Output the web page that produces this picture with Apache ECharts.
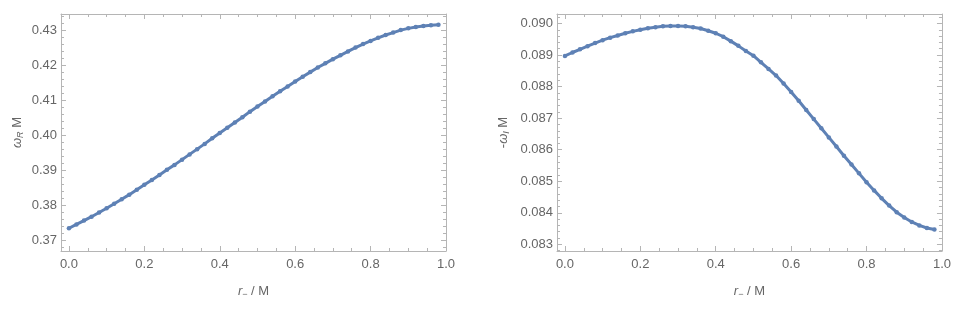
<!DOCTYPE html>
<html>
<head>
<meta charset="utf-8">
<script src="https://cdn.jsdelivr.net/npm/echarts@6/dist/echarts.min.js"></script>
<style>
html,body{margin:0;padding:0;background:#fff;}
#c{width:954px;height:313px;}
</style>
</head>
<body>
<div id="c"></div>
<script>
// ---- data ----
const rMinus = [0.00,0.02,0.04,0.06,0.08,0.10,0.12,0.14,0.16,0.18,0.20,0.22,0.24,0.26,0.28,0.30,0.32,0.34,0.36,0.38,0.40,0.42,0.44,0.46,0.48,0.50,0.52,0.54,0.56,0.58,0.60,0.62,0.64,0.66,0.68,0.70,0.72,0.74,0.76,0.78,0.80,0.82,0.84,0.86,0.88,0.90,0.92,0.94,0.96,0.98];
const omegaR = [0.3734,0.3745,0.3756,0.3767,0.3779,0.3791,0.3804,0.3817,0.3830,0.3844,0.3858,0.3872,0.3886,0.3901,0.3915,0.3930,0.3945,0.3960,0.3975,0.3991,0.4006,0.4021,0.4036,0.4051,0.4067,0.4082,0.4096,0.4111,0.4125,0.4139,0.4153,0.4167,0.4180,0.4193,0.4205,0.4217,0.4228,0.4239,0.4250,0.4260,0.4269,0.4278,0.4286,0.4293,0.4300,0.4305,0.4309,0.4312,0.4314,0.4315];
const minusOmegaI = [0.08897,0.08908,0.08918,0.08928,0.08938,0.08947,0.08955,0.08962,0.08969,0.08975,0.08980,0.08985,0.08988,0.08991,0.08992,0.08992,0.08991,0.08988,0.08984,0.08977,0.08969,0.08958,0.08944,0.08929,0.08913,0.08898,0.08877,0.08856,0.08835,0.08810,0.08783,0.08755,0.08726,0.08697,0.08668,0.08639,0.08610,0.08581,0.08553,0.08525,0.08497,0.08471,0.08446,0.08423,0.08402,0.08385,0.08371,0.08360,0.08352,0.08347];

const xTicks = [0.0,0.2,0.4,0.6,0.8,1.0];
const yTicksLeft = [0.37,0.38,0.39,0.40,0.41,0.42,0.43];
const yTicksRight = [0.083,0.084,0.085,0.086,0.087,0.088,0.089,0.090];

// ---- styling ----
const frameColor = '#b5b5b5';
const labelColor = '#666666';
const lineColor = '#5e81b5';
const font = "'Liberation Sans', Arial, sans-serif";

function minorTicks(min, max, step, majors) {
  const out = [];
  const start = Math.ceil(min / step - 1e-9);
  const end = Math.floor(max / step + 1e-9);
  for (let k = start; k <= end; k++) {
    const v = +(k * step).toFixed(6);
    if (!majors.some(m => Math.abs(m - v) < step / 10)) out.push(v);
  }
  return out;
}

function xAxes(grid, min, max, majors, minors, nameRich) {
  const base = {gridIndex: grid, type: 'value', min: min, max: max, splitLine: {show: false}};
  return [
    Object.assign({}, base, {
      position: 'bottom',
      axisLine: {show: true, onZero: false, lineStyle: {color: frameColor, width: 1}},
      axisTick: {show: true, inside: true, length: 5, customValues: majors, lineStyle: {color: frameColor}},
      axisLabel: {show: true, customValues: majors, formatter: v => v.toFixed(1), color: labelColor, fontSize: 13, fontFamily: font, margin: 7},
      name: nameRich, nameLocation: 'middle', nameGap: 33,
      nameTextStyle: {color: labelColor, fontSize: 13, fontFamily: font, rich: {
        i: {fontStyle: 'italic', fontSize: 13, fontFamily: font, color: labelColor},
        s: {fontSize: 9, fontFamily: font, color: labelColor, verticalAlign: 'bottom', padding: [6, 0, 0, 0]},
        n: {fontSize: 13, fontFamily: font, color: labelColor}
      }}
    }),
    Object.assign({}, base, {
      position: 'bottom',
      axisLine: {show: false, onZero: false},
      axisTick: {show: true, inside: true, length: 3, customValues: minors, lineStyle: {color: frameColor}},
      axisLabel: {show: false}
    }),
    Object.assign({}, base, {
      position: 'top',
      axisLine: {show: true, onZero: false, lineStyle: {color: frameColor, width: 1}},
      axisTick: {show: true, inside: true, length: 5, customValues: majors, lineStyle: {color: frameColor}},
      axisLabel: {show: false}
    }),
    Object.assign({}, base, {
      position: 'top',
      axisLine: {show: false, onZero: false},
      axisTick: {show: true, inside: true, length: 3, customValues: minors, lineStyle: {color: frameColor}},
      axisLabel: {show: false}
    })
  ];
}

function yAxes(grid, min, max, majors, minors, digits, nameRich, nameGap) {
  const base = {gridIndex: grid, type: 'value', min: min, max: max, splitLine: {show: false}};
  return [
    Object.assign({}, base, {
      position: 'left',
      axisLine: {show: true, onZero: false, lineStyle: {color: frameColor, width: 1}},
      axisTick: {show: true, inside: true, length: 5, customValues: majors, lineStyle: {color: frameColor}},
      axisLabel: {show: true, customValues: majors, formatter: v => v.toFixed(digits), color: labelColor, fontSize: 13, fontFamily: font, margin: 4},
      name: nameRich, nameLocation: 'middle', nameGap: nameGap, nameRotate: 90,
      nameTextStyle: {color: labelColor, fontSize: 13, fontFamily: font, rich: {
        w: {fontStyle: 'italic', fontSize: 13, fontFamily: font, color: labelColor},
        sub: {fontStyle: 'italic', fontSize: 9, fontFamily: font, color: labelColor, verticalAlign: 'bottom', padding: [6, 0, 0, 0]},
        n: {fontSize: 13, fontFamily: font, color: labelColor}
      }}
    }),
    Object.assign({}, base, {
      position: 'left',
      axisLine: {show: false, onZero: false},
      axisTick: {show: true, inside: true, length: 3, customValues: minors, lineStyle: {color: frameColor}},
      axisLabel: {show: false}
    }),
    Object.assign({}, base, {
      position: 'right',
      axisLine: {show: true, onZero: false, lineStyle: {color: frameColor, width: 1}},
      axisTick: {show: true, inside: true, length: 5, customValues: majors, lineStyle: {color: frameColor}},
      axisLabel: {show: false}
    }),
    Object.assign({}, base, {
      position: 'right',
      axisLine: {show: false, onZero: false},
      axisTick: {show: true, inside: true, length: 3, customValues: minors, lineStyle: {color: frameColor}},
      axisLabel: {show: false}
    })
  ];
}

const xMin = -0.021, xMax = 1.0;
const yLMin = 0.3669, yLMax = 0.4346;
const yRMin = 0.08279, yRMax = 0.09030;

const xMinors = minorTicks(xMin, xMax, 0.05, xTicks);
const yLMinors = minorTicks(yLMin, yLMax, 0.002, yTicksLeft);
const yRMinors = minorTicks(yRMin, yRMax, 0.0002, yTicksRight);

const xName = '{i|r}{s|−}{n| / M}';
const yNameL = '{w|ω}{sub|R}{n| M}';
const yNameR = '{n|-}{w|ω}{sub|I}{n| M}';

const option = {
  animation: false,
  backgroundColor: '#ffffff',
  grid: [
    {left: 61, top: 14, width: 385, height: 237},
    {left: 557, top: 14, width: 386.5, height: 237}
  ],
  xAxis: [].concat(
    xAxes(0, xMin, xMax, xTicks, xMinors, xName),
    xAxes(1, xMin, xMax, xTicks, xMinors, xName)
  ),
  yAxis: [].concat(
    yAxes(0, yLMin, yLMax, yTicksLeft, yLMinors, 2, yNameL, 36),
    yAxes(1, yRMin, yRMax, yTicksRight, yRMinors, 3, yNameR, 46)
  ),
  series: [
    {
      type: 'line', xAxisIndex: 0, yAxisIndex: 0,
      data: rMinus.map((x, i) => [x, omegaR[i]]),
      lineStyle: {color: lineColor, width: 3},
      itemStyle: {color: lineColor},
      symbol: 'circle', symbolSize: 4.5, showSymbol: true
    },
    {
      type: 'line', xAxisIndex: 4, yAxisIndex: 4,
      data: rMinus.map((x, i) => [x, minusOmegaI[i]]),
      lineStyle: {color: lineColor, width: 3},
      itemStyle: {color: lineColor},
      symbol: 'circle', symbolSize: 4.5, showSymbol: true
    }
  ]
};

const chart = echarts.init(document.getElementById('c'), null, {renderer: 'canvas'});
chart.setOption(option);
</script>
</body>
</html>
